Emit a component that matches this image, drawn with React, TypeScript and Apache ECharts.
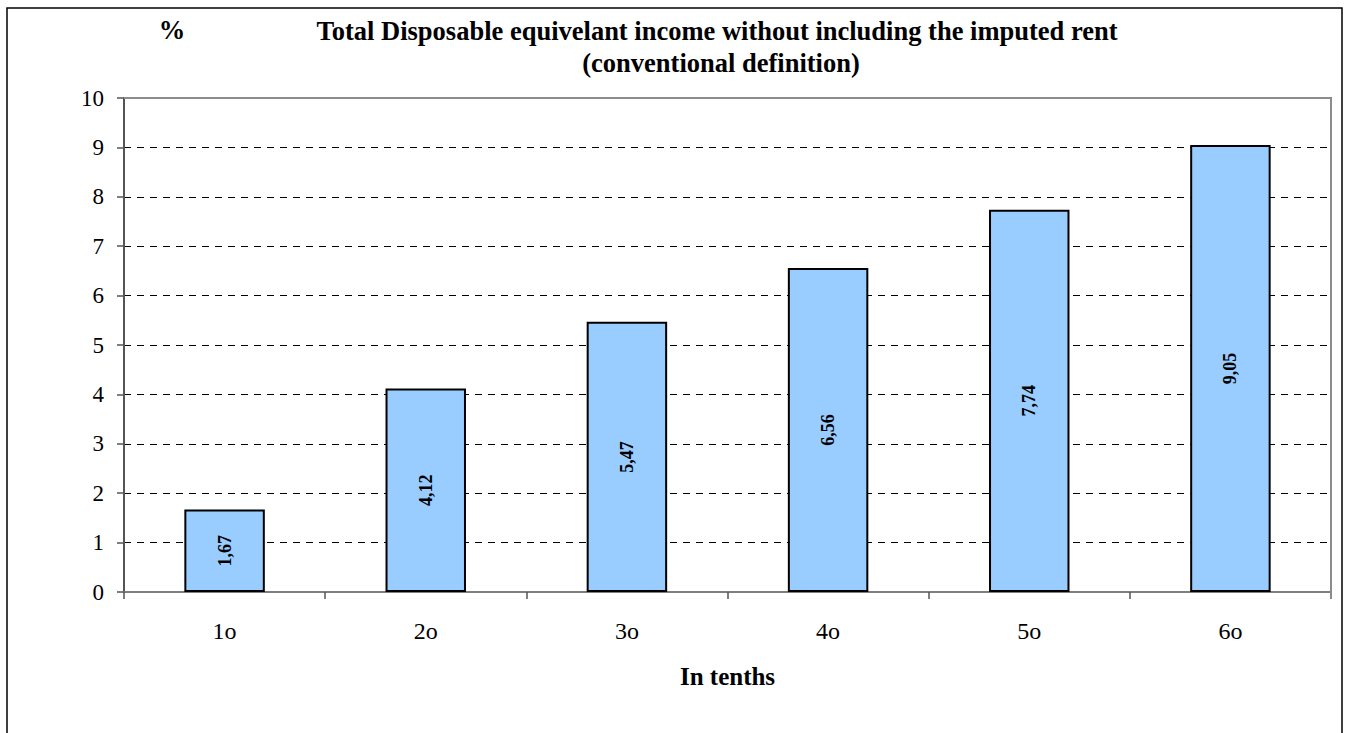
import React, { useEffect, useRef } from "react";
import * as echarts from "echarts";

const categories = ["1o", "2o", "3o", "4o", "5o", "6o"];
const values = [1.67, 4.12, 5.47, 6.56, 7.74, 9.05];
const yTicks = { min: 0, max: 10, interval: 1 };
const titleLine1 = "Total Disposable equivelant income without including the imputed rent";
const titleLine2 = "(conventional definition)";
const unitLabel = "%";
const xAxisName = "In tenths";

const FONT = "Liberation Serif";

export default function App() {
  const ref = useRef<HTMLDivElement>(null);
  useEffect(() => {
    if (!ref.current) return;
    const chart = echarts.init(ref.current, undefined, { renderer: "svg" });
    const gl = 124, gr = 1331, gt = 98, gb = 592;
    chart.setOption({
      animation: false,
      backgroundColor: "#ffffff",
      textStyle: { fontFamily: FONT },
      grid: {
        left: gl,
        right: 1345 - gr,
        top: gt,
        bottom: 733 - gb,
        show: false,
      },
      xAxis: {
        type: "category",
        data: categories,
        name: xAxisName,
        nameLocation: "middle",
        nameGap: 72,
        nameTextStyle: { fontFamily: FONT, fontSize: 25, fontWeight: "bold", color: "#000", verticalAlign: "top" },
        axisLine: { show: true, lineStyle: { color: "#7f7f7f", width: 2 } },
        axisTick: { show: true, length: 7, lineStyle: { color: "#555", width: 1.5 } },
        axisLabel: { fontFamily: FONT, fontSize: 24, color: "#000", margin: 27 },
        splitLine: { show: false },
      },
      yAxis: {
        type: "value",
        min: yTicks.min,
        max: yTicks.max,
        interval: yTicks.interval,
        axisLine: { show: true, lineStyle: { color: "#555", width: 2 } },
        axisTick: { show: true, length: 7, lineStyle: { color: "#555", width: 1.5 } },
        axisLabel: { fontFamily: FONT, fontSize: 23, color: "#000", margin: 20 },
        splitLine: { show: true, lineStyle: { color: "#000", width: 1, type: [7, 6] } },
      },
      series: [
        {
          type: "bar",
          data: values,
          barWidth: "40%",
          itemStyle: { color: "#99ccff", borderColor: "#000", borderWidth: 2 },
          label: {
            show: true,
            position: "inside",
            rotate: 90,
            fontFamily: FONT,
            fontSize: 18,
            fontWeight: "bold",
            color: "#000",
            formatter: (p: any) => Number(p.value).toFixed(2).replace(".", ","),
          },
        },
      ],
      graphic: [
        {
          type: "rect",
          shape: { x: 7, y: 8, width: 1335, height: 800 },
          style: { fill: "none", stroke: "#000", lineWidth: 1.5 },
          silent: true,
        },
        {
          type: "polyline",
          shape: { points: [[gl, gt], [gr, gt], [gr, gb + 7]] },
          style: { fill: "none", stroke: "#8c8c8c", lineWidth: 2 },
          z: 100,
          silent: true,
        },
        {
          type: "text",
          x: 172,
          y: 30,
          style: { text: unitLabel, fontFamily: FONT, fontSize: 26.5, fontWeight: "bold", fill: "#000", textAlign: "center", textVerticalAlign: "middle" },
        },
        {
          type: "text",
          x: 717,
          y: 31,
          style: { text: titleLine1, fontFamily: FONT, fontSize: 26.5, fontWeight: "bold", fill: "#000", textAlign: "center", textVerticalAlign: "middle" },
        },
        {
          type: "text",
          x: 721,
          y: 63,
          style: { text: titleLine2, fontFamily: FONT, fontSize: 26.5, fontWeight: "bold", fill: "#000", textAlign: "center", textVerticalAlign: "middle" },
        },
      ],
    });
    return () => chart.dispose();
  }, []);
  return (
    <div
      ref={ref}
      style={{ position: "fixed", left: 0, top: 0, width: 1345, height: 733, background: "#fff" }}
    />
  );
}
